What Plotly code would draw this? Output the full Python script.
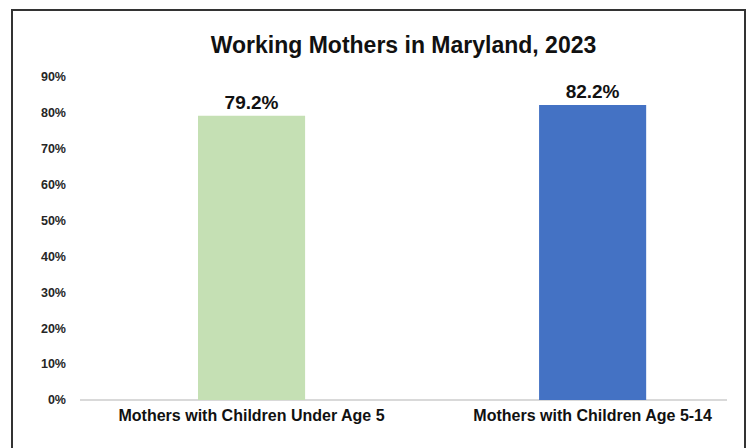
import plotly.graph_objects as go

categories = ["Mothers with Children Under Age 5", "Mothers with Children Age 5-14"]
values = [0.792, 0.822]
labels = ["79.2%", "82.2%"]
colors = ["#C5E0B4", "#4472C4"]
y_ticks = [0, 0.1, 0.2, 0.3, 0.4, 0.5, 0.6, 0.7, 0.8, 0.9]

fig = go.Figure()
fig.add_trace(go.Bar(
    x=categories, y=values, marker=dict(color=colors, line=dict(width=0)),
    width=0.314, text=labels, textposition="outside", cliponaxis=False,
    textfont=dict(family="Arial, Liberation Sans", size=19, color="#111111", weight="bold"),
))

fig.update_layout(
    width=749, height=448,
    margin=dict(l=80, r=22, t=77, b=48),
    paper_bgcolor="white", plot_bgcolor="white",
    title=dict(text="Working Mothers in Maryland, 2023", x=0.5, xref="paper",
               y=1 - 45/448, yanchor="middle",
               font=dict(family="Arial, Liberation Sans", size=23, color="#111111", weight="bold")),
    showlegend=False,
    xaxis=dict(range=[-0.503, 1.394], showgrid=False, showline=False, zeroline=False,
               ticks="", tickfont=dict(family="Arial, Liberation Sans", size=16, color="#111111", weight="bold"),
               ticklabelstandoff=4),
    yaxis=dict(range=[0, 0.9], tickvals=y_ticks, tickformat=".0%", showgrid=False,
               zeroline=True, zerolinecolor="#D9D9D9", zerolinewidth=2,
               showline=False, ticks="",
               tickfont=dict(family="Arial, Liberation Sans", size=12.5, color="#262626", weight="bold"),
               ticklabelstandoff=13),
    shapes=[dict(type="rect", xref="paper", yref="paper",
                 x0=(12-80)/647, x1=(745-80)/647, y0=-0.2, y1=(400-10)/323,
                 line=dict(color="#333333", width=2), fillcolor="rgba(0,0,0,0)", layer="above")],
)

fig.write_html("out.html")
